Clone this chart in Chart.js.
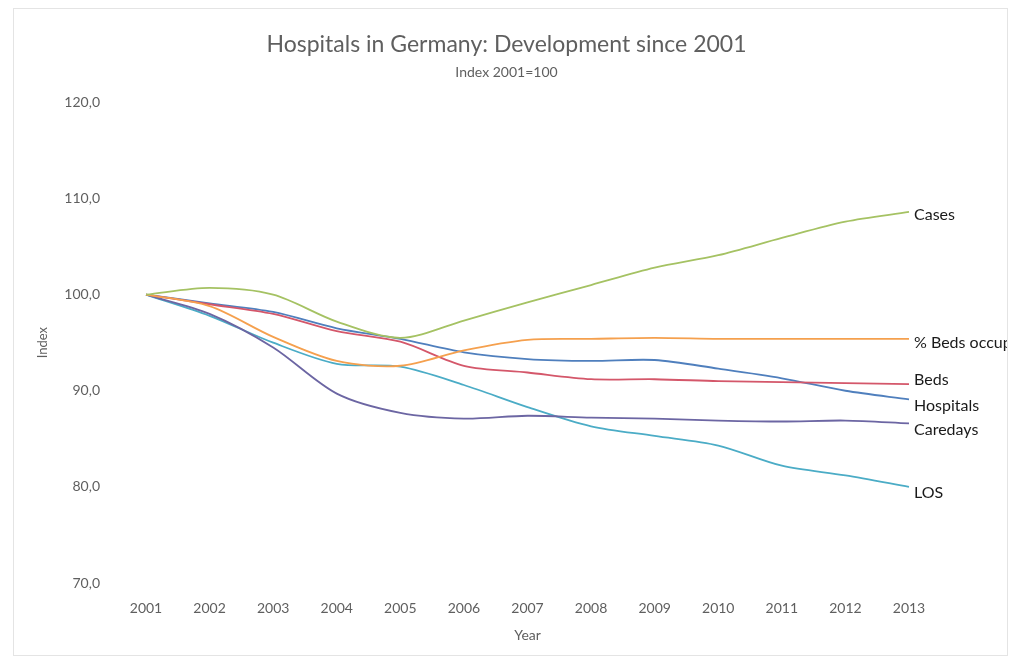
<!DOCTYPE html>
<html>
<head>
<meta charset="utf-8">
<title>Hospitals in Germany</title>
<script src="https://cdn.jsdelivr.net/npm/chart.js@4.4.1/dist/chart.umd.min.js"></script>
<style>
  html, body { margin: 0; padding: 0; background: #fff; }
  #wrap { position: relative; width: 1013px; height: 663px; }
</style>
</head>
<body>
<div id="wrap"><canvas id="hospitalChart" width="1013" height="663"></canvas></div>
<script>
// values, index 2001 = 100
const years = ['2001', '2002', '2003', '2004', '2005', '2006', '2007', '2008', '2009', '2010', '2011', '2012', '2013'];
const cases = [100, 100.7, 100.0, 97.2, 95.5, 97.3, 99.2, 101.0, 102.8, 104.1, 105.9, 107.6, 108.6];
const bedsOccupied = [100, 98.8, 95.6, 93.1, 92.6, 94.2, 95.3, 95.4, 95.5, 95.4, 95.4, 95.4, 95.4];
const beds = [100, 99.0, 98.0, 96.2, 95.1, 92.6, 91.9, 91.2, 91.2, 91.0, 90.9, 90.8, 90.7];
const hospitals = [100, 99.1, 98.2, 96.5, 95.4, 94.0, 93.3, 93.1, 93.2, 92.3, 91.3, 90.0, 89.1];
const caredays = [100, 98.0, 94.5, 89.7, 87.7, 87.1, 87.4, 87.2, 87.1, 86.9, 86.8, 86.9, 86.6];
const los = [100, 97.8, 95.0, 92.8, 92.5, 90.6, 88.3, 86.3, 85.3, 84.3, 82.2, 81.2, 80.0];
const yTicks = [70, 80, 90, 100, 110, 120];

const gray = '#5f5f5f';
const font = 'Lato, "Open Sans", sans-serif';

// draws the series name next to the last point of each line
const endLabels = {
    id: 'endLabels',
    afterDatasetsDraw(chart) {
        const ctx = chart.ctx;
        ctx.save();
        ctx.beginPath();
        ctx.rect(0, 0, 1007, chart.height);
        ctx.clip();
        ctx.font = '16px ' + font;
        ctx.fillStyle = '#1a1a1a';
        ctx.textBaseline = 'middle';
        ctx.textAlign = 'left';
        chart.data.datasets.forEach((ds, i) => {
            const meta = chart.getDatasetMeta(i);
            const last = meta.data[meta.data.length - 1];
            ctx.fillText(ds.label, last.x + 5, last.y + (ds.labelShift || 0));
        });
        ctx.restore();

        // faint frame of the chart area
        ctx.save();
        ctx.strokeStyle = '#e4e4e4';
        ctx.lineWidth = 1;
        ctx.strokeRect(13.5, 8.5, 994, 647);
        ctx.restore();
    }
};

const ctx = document.getElementById('hospitalChart');

const hospitalChart = new Chart(ctx, {
    type: 'line',
    data: {
        labels: years,
        datasets: [
            { label: 'Cases', data: cases, borderColor: '#a5c263', labelShift: 3 },
            { label: '% Beds occupied', data: bedsOccupied, borderColor: '#f5a04e', labelShift: 4 },
            { label: 'Beds', data: beds, borderColor: '#d4576a', labelShift: -4 },
            { label: 'Hospitals', data: hospitals, borderColor: '#4f7fbd', labelShift: 6 },
            { label: 'Caredays', data: caredays, borderColor: '#6c66a3', labelShift: 6 },
            { label: 'LOS', data: los, borderColor: '#4bacc6', labelShift: 6 }
        ]
    },
    options: {
        responsive: false,
        animation: false,
        layout: {
            padding: 0
        },
        elements: {
            point: { radius: 0 },
            line: { borderWidth: 1.8, tension: 0.3, fill: false }
        },
        plugins: {
            legend: { display: false },
            tooltip: { enabled: false },
            title: {
                display: true,
                text: 'Hospitals in Germany: Development since 2001',
                color: gray,
                font: { family: font, size: 23, weight: 'normal' },
                padding: { top: 31, bottom: 5 }
            },
            subtitle: {
                display: true,
                text: 'Index 2001=100',
                color: gray,
                font: { family: font, size: 14 },
                padding: { top: 0, bottom: 22 }
            }
        },
        scales: {
            x: {
                offset: false,
                grid: { display: false, drawTicks: false },
                border: { display: false },
                ticks: {
                    color: gray,
                    padding: 17,
                    maxRotation: 0,
                    font: { family: font, size: 14 }
                },
                title: {
                    display: true,
                    text: 'Year',
                    color: gray,
                    font: { family: font, size: 14 },
                    padding: { top: 0, bottom: 19 }
                },
                afterFit: scale => { scale.height = 80; }
            },
            y: {
                min: 70,
                max: 120,
                afterBuildTicks: scale => { scale.ticks = yTicks.map(v => ({ value: v })); },
                grid: { display: false, drawTicks: false },
                border: { display: false },
                ticks: {
                    color: gray,
                    padding: 46,
                    font: { family: font, size: 14 },
                    callback: value => value.toFixed(1).replace('.', ',')
                },
                title: {
                    display: true,
                    text: 'Index',
                    color: gray,
                    font: { family: font, size: 13 },
                    padding: { top: 35, bottom: 0 }
                },
                afterFit: scale => { scale.width = 146; }
            },
            // empty axis on the right keeps room for the series names
            labelRoom: {
                type: 'linear',
                position: 'right',
                display: true,
                grid: { display: false, drawTicks: false },
                border: { display: false },
                ticks: { display: false },
                afterFit: scale => { scale.width = 104; }
            }
        }
    },
    plugins: [endLabels]
});
</script>
</body>
</html>
